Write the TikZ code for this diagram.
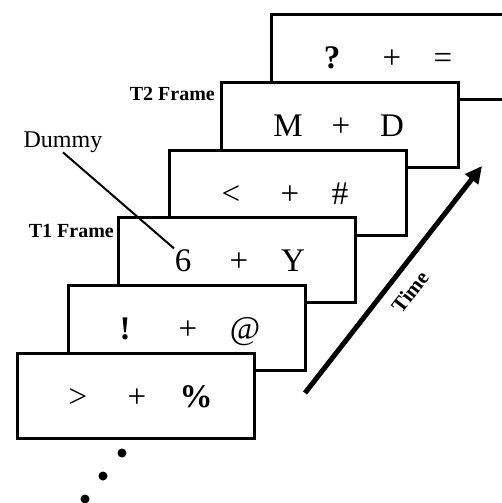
\documentclass[tikz,border=0pt]{standalone}
\usepackage{fontspec}
\setmainfont{Liberation Serif}
\usetikzlibrary{arrows.meta}

\begin{document}
\begin{tikzpicture}[x=1pt, y=-1pt,
  frame/.style={draw, line width=3pt, fill=white, rectangle,
    minimum width=237pt, minimum height=85pt, inner sep=0pt, anchor=north west},
  sym/.style={font=\fontsize{33}{40}\selectfont, anchor=base, inner sep=0.5pt},
  tag/.style={font=\fontsize{20}{24}\selectfont\bfseries, anchor=base east, inner sep=0pt},
  note/.style={font=\fontsize{24}{28}\selectfont, anchor=base, inner sep=0pt},
  dot/.style={circle, fill=black, inner sep=0pt, minimum size=9pt},
  timeline/.style={line width=5pt, -{Triangle[length=17pt, width=16pt]}}]
\useasboundingbox (0,0) rectangle (501,503);

% frames, back to front
\node[frame] (f1) at (270,13) {};
\node[sym] (s1a) at (332,68) {\textbf{?}};
\node[sym] (s1b) at (392,68) {+};
\node[sym] (s1c) at (443,68) {=};

\node[frame] (f2) at (220,81) {};
\node[sym] (s2a) at (288,136) {M};
\node[sym] (s2b) at (341,136) {+};
\node[sym] (s2c) at (392,136) {D};

\node[frame] (f3) at (168,149) {};
\node[sym] (s3a) at (231,204) {<};
\node[sym] (s3b) at (290,204) {+};
\node[sym] (s3c) at (340,204) {\#};

\node[frame] (f4) at (117,216) {};
\node[sym] (six) at (183,271) {6};
\node[sym] (s4b) at (239,271) {+};
\node[sym] (s4c) at (293,271) {Y};

\node[frame] (f5) at (67,284) {};
\node[sym] (s5a) at (125,339) {\textbf{!}};
\node[sym] (s5b) at (188,339) {+};
\node[sym] (s5c) at (245,339) {@};

\node[frame] (f6) at (16,352) {};
\node[sym] (s6a) at (78,407) {>};
\node[sym] (s6b) at (137,407) {+};
\node[sym] (s6c) at (196,407) {\textbf{\%}};

% frame tags
\node[tag] (t2) at (215,100) {T2 Frame};
\node[tag] (t1) at (114,237) {T1 Frame};

% dummy marker
\node[note] (dummy) at (63,147) {Dummy};
\draw[line width=2pt] (dummy.south) -- (six.north west);

% time axis
\coordinate (tstart) at (305,393);
\coordinate (tend) at (482,166);
\draw[timeline] (tstart) -- (tend);
\node[font=\fontsize{21}{24}\selectfont\bfseries, rotate=52, inner sep=0pt] (time) at (410,292) {Time};

% continuation dots
\node[dot] (d1) at (122,453) {};
\node[dot] (d2) at (103,476) {};
\node[dot] (d3) at (85,499) {};
\end{tikzpicture}
\end{document}
